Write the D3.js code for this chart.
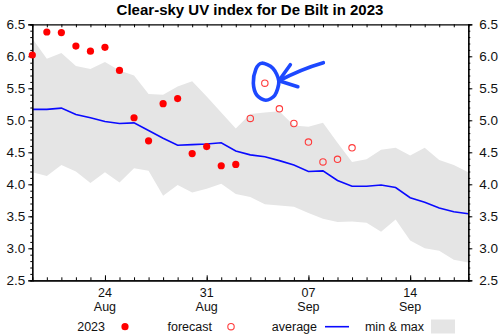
<!DOCTYPE html>
<html><head><meta charset="utf-8">
<script src="https://cdn.jsdelivr.net/npm/d3@7"></script>
<style>
html,body{margin:0;padding:0;background:#fff;}
svg{display:block;font-family:"Liberation Sans",Arial,Helvetica,sans-serif;}
</style></head>
<body>
<svg id="chart" width="500" height="336"></svg>
<script>
// ---- data ----
const days = ["2023-08-19","2023-08-20","2023-08-21","2023-08-22","2023-08-23","2023-08-24","2023-08-25","2023-08-26","2023-08-27","2023-08-28","2023-08-29","2023-08-30","2023-08-31","2023-09-01","2023-09-02","2023-09-03","2023-09-04","2023-09-05","2023-09-06","2023-09-07","2023-09-08","2023-09-09","2023-09-10","2023-09-11","2023-09-12","2023-09-13","2023-09-14","2023-09-15","2023-09-16","2023-09-17","2023-09-18"];
const obsDays = ["2023-08-19","2023-08-20","2023-08-21","2023-08-22","2023-08-23","2023-08-24","2023-08-25","2023-08-26","2023-08-27","2023-08-28","2023-08-29","2023-08-30","2023-08-31","2023-09-01","2023-09-02"];
const obsValues = [6.02,6.38,6.37,6.16,6.08,6.14,5.78,5.04,4.68,5.26,5.34,4.48,4.59,4.29,4.31];
const fcDays = ["2023-09-03","2023-09-04","2023-09-05","2023-09-06","2023-09-07","2023-09-08","2023-09-09","2023-09-10"];
const fcValues = [5.03,5.58,5.18,4.95,4.66,4.35,4.39,4.57];
const avgValues = [5.17,5.17,5.19,5.09,5.04,4.98,4.95,4.96,4.84,4.72,4.61,4.62,4.63,4.65,4.52,4.46,4.43,4.37,4.30,4.20,4.21,4.06,3.97,3.97,3.99,3.95,3.79,3.72,3.63,3.57,3.54];
const maxValues = [6.28,5.96,6.05,5.85,5.80,5.91,5.78,5.70,5.41,5.40,5.53,5.61,5.37,5.12,4.87,5.10,5.12,5.14,4.92,4.90,4.96,4.65,4.35,4.39,4.54,4.57,4.45,4.57,4.38,4.30,4.19];
const minValues = [4.19,4.13,4.30,4.20,4.02,4.19,4.03,4.25,4.21,3.82,3.99,3.87,3.93,4.01,3.85,3.80,3.69,3.67,3.65,3.55,3.46,3.41,3.42,3.40,3.26,3.45,3.12,3.00,2.96,2.82,2.78];
const yTicks = [2.5,3.0,3.5,4.0,4.5,5.0,5.5,6.0,6.5];
const xTickDates = ["2023-08-24","2023-08-31","2023-09-07","2023-09-14"];
const xTickDay = ["24","31","07","14"];
const xTickMonth = ["Aug","Aug","Sep","Sep"];
const title = "Clear-sky UV index for De Bilt in 2023";
const legendLabels = ["2023","forecast","average","min & max"];
const highlightDay = "2023-09-04";
const highlightValue = 5.58;

// ---- setup ----
const parse = d3.utcParse("%Y-%m-%d");
const svg = d3.select("#chart");
const L = 32.3, R = 468.3, T = 24.3, B = 280.3;
const x = d3.scaleUtc().domain([parse(days[0]), parse(days[days.length-1])]).range([L, R]);
const y = d3.scaleLinear().domain([2.5, 6.5]).range([B, T]);

svg.append("defs").append("clipPath").attr("id","clip")
  .append("rect").attr("x",L).attr("y",T).attr("width",R-L).attr("height",B-T);

const band = days.map((d,i)=>({d:parse(d), lo:minValues[i], hi:maxValues[i], avg:avgValues[i]}));
const g = svg.append("g").attr("clip-path","url(#clip)");
g.append("path").datum(band)
  .attr("d", d3.area().x(d=>x(d.d)).y0(d=>y(d.lo)).y1(d=>y(d.hi)))
  .attr("fill","#e5e5e5");
g.append("path").datum(band)
  .attr("d", d3.line().x(d=>x(d.d)).y(d=>y(d.avg)))
  .attr("fill","none").attr("stroke","#0a0aff").attr("stroke-width",1.6);

// ---- axes ----
const minorY = d3.range(25, 66).map(v=>v/10);
const allDays = days.map(parse);
function styleAxis(sel){
  sel.selectAll("path.domain").attr("stroke","#000").attr("stroke-width",1.2);
  sel.selectAll(".tick line").attr("stroke","#000").attr("stroke-width",1);
}
// left
svg.append("g").attr("transform",`translate(${L},0)`)
  .call(d3.axisLeft(y).tickValues(minorY).tickSize(2).tickFormat("")).call(styleAxis);
svg.append("g").attr("transform",`translate(${L},0)`)
  .call(d3.axisLeft(y).tickValues(yTicks).tickSize(4).tickPadding(3).tickFormat(d3.format(".1f")))
  .call(styleAxis)
  .call(s=>s.selectAll("text").attr("font-size",13.5).attr("fill","#111").attr("font-family","Liberation Sans, Arial, sans-serif"));
// right
svg.append("g").attr("transform",`translate(${R},0)`)
  .call(d3.axisRight(y).tickValues(minorY).tickSize(2).tickFormat("")).call(styleAxis);
svg.append("g").attr("transform",`translate(${R},0)`)
  .call(d3.axisRight(y).tickValues(yTicks).tickSize(4).tickPadding(7).tickFormat(d3.format(".1f")))
  .call(styleAxis)
  .call(s=>s.selectAll("text").attr("font-size",13.5).attr("fill","#111").attr("font-family","Liberation Sans, Arial, sans-serif"));
// top
svg.append("g").attr("transform",`translate(0,${T})`)
  .call(d3.axisTop(x).tickValues(allDays).tickSizeInner(-3).tickSizeOuter(0).tickFormat("")).call(styleAxis);
// bottom
svg.append("g").attr("transform",`translate(0,${B})`)
  .call(d3.axisBottom(x).tickValues(allDays).tickSizeInner(-3).tickSizeOuter(0).tickFormat("")).call(styleAxis);
svg.append("g").attr("transform",`translate(0,${B})`)
  .call(d3.axisBottom(x).tickValues(xTickDates.map(parse)).tickSizeInner(-5).tickSizeOuter(0).tickFormat(""))
  .call(styleAxis);
const labG = svg.append("g").attr("font-size",12.5).attr("fill","#111").attr("text-anchor","middle");
xTickDates.forEach((d,i)=>{
  labG.append("text").attr("x", x(parse(d))).attr("y", B+16.5).text(xTickDay[i]);
  labG.append("text").attr("x", x(parse(d))).attr("y", B+30.5).text(xTickMonth[i]);
});

// ---- points ----
svg.append("g").selectAll("circle").data(obsDays.map((d,i)=>({d:parse(d), v:obsValues[i]})))
  .join("circle").attr("cx",d=>x(d.d)).attr("cy",d=>y(d.v)).attr("r",3.6).attr("fill","#ff0000");
svg.append("g").selectAll("circle").data(fcDays.map((d,i)=>({d:parse(d), v:fcValues[i]})))
  .join("circle").attr("cx",d=>x(d.d)).attr("cy",d=>y(d.v)).attr("r",3.2)
  .attr("fill","none").attr("stroke","#ff3b3b").attr("stroke-width",1.1);

// ---- title ----
svg.append("text").attr("x",250).attr("y",15).attr("text-anchor","middle")
  .attr("font-size",15).attr("font-weight","bold").attr("fill","#000").text(title);

// ---- hand-drawn annotation ----
const px = x(parse(highlightDay)), py = y(highlightValue);
const ann = svg.append("g").attr("transform",`translate(${px},${py})`)
  .attr("fill","none").attr("stroke","#1d48ff").attr("stroke-width",3.6)
  .attr("stroke-linecap","round").attr("stroke-linejoin","round");
const egg = [[-3,-20],[8,-15],[14,-2],[10,12],[1,17],[-8,12],[-11.5,0],[-9,-14]];
ann.append("path").attr("d", d3.line().curve(d3.curveCardinalClosed.tension(0.1))(egg));
ann.append("path").attr("d", "M58.5,-20.5 Q36,-14 14.5,-2.5");
ann.append("path").attr("d", "M25.5,-18.5 L14,-2.5 L33,3.5");

// ---- legend ----
const lg = svg.append("g").attr("font-size",12.5).attr("fill","#111");
const ly = 331;
lg.append("text").attr("x",105).attr("y",ly).attr("text-anchor","end").text(legendLabels[0]);
lg.append("circle").attr("cx",125).attr("cy",326.7).attr("r",3.6).attr("fill","#ff0000");
lg.append("text").attr("x",212).attr("y",ly).attr("text-anchor","end").text(legendLabels[1]);
lg.append("circle").attr("cx",231).attr("cy",326.7).attr("r",3.2).attr("fill","none").attr("stroke","#ff3b3b").attr("stroke-width",1.1);
lg.append("text").attr("x",317).attr("y",ly).attr("text-anchor","end").text(legendLabels[2]);
lg.append("line").attr("x1",325).attr("x2",349).attr("y1",326.7).attr("y2",326.7).attr("stroke","#0a0aff").attr("stroke-width",1.6);
lg.append("text").attr("x",424).attr("y",ly).attr("text-anchor","end").text(legendLabels[3]);
lg.append("rect").attr("x",431).attr("y",319.5).attr("width",24).attr("height",14).attr("fill","#e5e5e5");
</script>
</body></html>
